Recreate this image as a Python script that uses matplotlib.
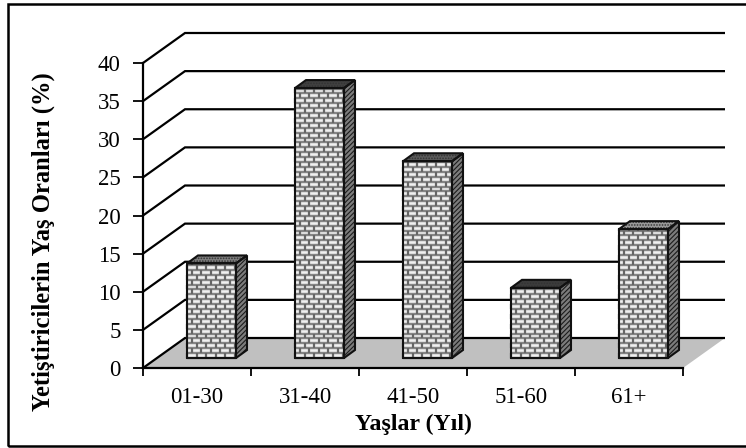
import matplotlib
matplotlib.use("Agg")
import matplotlib.pyplot as plt
from matplotlib.patches import Polygon, Rectangle
from matplotlib.collections import LineCollection

categories = ["01-30", "31-40", "41-50", "51-60", "61+"]
values = [12.4, 35.4, 25.8, 9.2, 16.9]
yticks = [0, 5, 10, 15, 20, 25, 30, 35, 40]
top_colors = ["#7f7f7f", "#404040", "#5c5c5c", "#3c3c3c", "#9a9a9a"]

plt.rcParams["font.family"] = ["Liberation Serif", "DejaVu Serif"]
plt.rcParams["hatch.linewidth"] = 0.8
W, H = 746, 448
fig = plt.figure(figsize=(W / 100, H / 100), dpi=100)
L, R, T, B = 143, 683, 63, 368
ax = fig.add_axes([L / W, 1 - B / H, (R - L) / W, (B - T) / H])
ax.set_xlim(0, 5)
ax.set_ylim(0, 40)
ux = 5 / (R - L)      # data units per pixel
uy = 40 / (B - T)
BX, BY = 42 * ux, 30 * uy          # wall depth
FX, FY = 14.5 * ux, 10 * uy        # bar front plane
DX, DY = 11 * ux, 8 * uy           # bar depth
bw = 49 * ux

# outer frame (its right side runs past the picture edge)
fig.add_artist(Rectangle((8 / W, 1 - 446 / H), 760 / W, 442 / H, transform=fig.transFigure,
                         fill=False, ec="black", lw=1.8))

# floor
ax.add_patch(Polygon([(0, 0), (5, 0), (5 + BX, BY), (BX, BY)], fc="#c0c0c0", ec="none", zorder=1, clip_on=False))
# gridlines
for t in yticks:
    ax.plot([0, BX, 5 + BX], [t, t + BY, t + BY], color="black", lw=1.6, zorder=2, clip_on=False,
            solid_joinstyle="miter", solid_capstyle="butt")

# bars
for i, v in enumerate(values):
    x0 = i + 0.5 + FX - bw / 2
    x1 = x0 + bw
    y0 = FY
    y1 = FY + v
    side = Polygon([(x1, y0), (x1 + DX, y0 + DY), (x1 + DX, y1 + DY), (x1, y1)],
                   fc="#7c7c7c", ec="#1c1c1c", hatch="///////", zorder=3, lw=0, clip_on=False)
    top = Polygon([(x0, y1), (x0 + DX, y1 + DY), (x1 + DX, y1 + DY), (x1, y1)],
                  fc=top_colors[i], ec="#333333", hatch="......", zorder=3, lw=0, clip_on=False)
    front = Rectangle((x0, y0), bw, v, fc="#f0f0f0", ec="none", zorder=3, clip_on=False)
    ax.add_patch(side)
    ax.add_patch(top)
    ax.add_patch(front)
    # brick texture
    rh = 4.9 * uy
    bk = 9.5 * ux
    hsegs, vsegs = [], []
    row = 0
    y = y0
    while y < y1:
        yn = min(y + rh, y1)
        hsegs.append([(x0, y), (x1, y)])
        xx = x0 + (bk / 2 if row % 2 else 0)
        while xx < x1:
            vsegs.append([(xx, y), (xx, yn)])
            xx += bk
        y += rh
        row += 1
    ax.add_collection(LineCollection(hsegs, colors="#858585", linewidths=1.7, zorder=4))
    ax.add_collection(LineCollection(vsegs, colors="#666666", linewidths=1.6, zorder=4))
    # outlines
    for poly in ([(x0, y0), (x1, y0), (x1, y1), (x0, y1)],
                 [(x1, y0), (x1 + DX, y0 + DY), (x1 + DX, y1 + DY), (x1, y1)],
                 [(x0, y1), (x0 + DX, y1 + DY), (x1 + DX, y1 + DY), (x1, y1)]):
        ax.add_patch(Polygon(poly, fill=False, ec="#111111", lw=1.5, zorder=5, clip_on=False))

for s in ("top", "right"):
    ax.spines[s].set_visible(False)
for s in ("left", "bottom"):
    ax.spines[s].set_linewidth(1.6)
    ax.spines[s].set_zorder(6)
ax.set_yticks(yticks)
ax.set_xticks(range(6))
ax.set_xticklabels([])
ax.set_xticks([i + 0.5 for i in range(5)], categories, minor=True)
ax.tick_params(axis="x", which="major", length=6, width=1.3, direction="out")
ax.tick_params(axis="x", which="minor", length=0, labelsize=16.5, pad=14)
ax.tick_params(axis="y", length=7, width=1.3, labelsize=16.5, pad=9)

fig.text(413 / W, 1 - 424 / H, "Yaşlar (Yıl)", ha="center", va="center", fontsize=17.2, fontweight="bold")
fig.text(43 / W, 1 - 242 / H, "Yetiştiricilerin Yaş Oranları (%)", rotation=90, ha="center", va="center",
         fontsize=17.7, fontweight="bold")
fig.savefig("out.png", dpi=100)
